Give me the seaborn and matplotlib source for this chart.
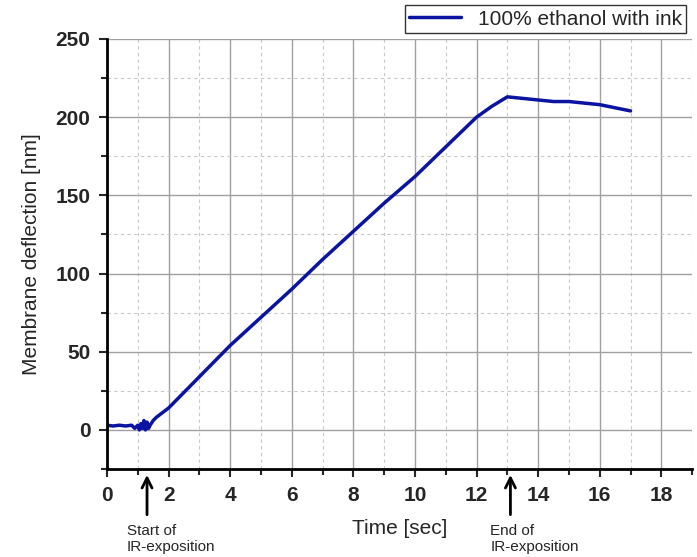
import numpy as np
import pandas as pd
import matplotlib
matplotlib.use("Agg")
import matplotlib.pyplot as plt
import seaborn as sns
from matplotlib.ticker import MultipleLocator

# Data
time_s = [0.0, 0.2, 0.4, 0.6, 0.8, 0.9, 1.0, 1.05, 1.1, 1.15, 1.2, 1.25, 1.3, 1.35, 1.4,
          1.5, 1.6, 1.8, 2.0, 3.0, 4.0, 5.0, 6.0, 7.0, 8.0, 9.0, 10.0, 11.0, 12.0,
          12.5, 13.0, 13.5, 14.0, 14.5, 15.0, 15.5, 16.0, 16.5, 17.0]
deflection_nm = [3, 2.5, 3, 2.5, 3, 1, 3, 0, 4, 1, 6, 0, 5, 1, 3,
                 6, 8, 11, 14, 34, 54, 72, 90, 109, 127, 145, 162, 181, 200,
                 207, 213, 212, 211, 210, 210, 209, 208, 206, 204]
series_label = "100% ethanol with ink"

df = pd.DataFrame({"Time": time_s, "Deflection": deflection_nm})

sns.set_style("white")
plt.rcParams["font.family"] = ["Liberation Sans", "DejaVu Sans"]

fig = plt.figure(figsize=(6.97, 5.57), dpi=100)
ax = fig.add_axes([0.1535, 0.158, 0.8395, 0.772])

sns.lineplot(data=df, x="Time", y="Deflection", ax=ax, color="#0a14a0",
             linewidth=2.5, label=series_label)

ax.set_xlim(0, 19)
ax.set_ylim(-25, 250)
ax.xaxis.set_major_locator(MultipleLocator(2))
ax.xaxis.set_minor_locator(MultipleLocator(1))
ax.yaxis.set_major_locator(MultipleLocator(50))
ax.yaxis.set_minor_locator(MultipleLocator(25))

ax.grid(which="major", color="#a0a0a0", linewidth=1, linestyle="-")
ax.grid(which="minor", color="#c8c8c8", linewidth=0.8, linestyle=(0, (3, 3)))
ax.set_axisbelow(True)

for s in ["top", "right"]:
    ax.spines[s].set_visible(False)
for s in ["left", "bottom"]:
    ax.spines[s].set_linewidth(2)
    ax.spines[s].set_color("black")

ax.tick_params(which="major", direction="out", length=6, width=1.5,
               labelsize=15, pad=6, left=True, bottom=True)
ax.tick_params(which="minor", direction="out", length=4, width=1.5,
               left=True, bottom=True)
for lbl in ax.get_xticklabels() + ax.get_yticklabels():
    lbl.set_fontweight("bold")

ax.set_xlabel("Time [sec]", fontsize=15, labelpad=10)
ax.set_ylabel("Membrane deflection [nm]", fontsize=15, labelpad=10)

leg = ax.legend(loc="lower right", bbox_to_anchor=(1.0, 1.0), fontsize=15,
                frameon=True, fancybox=False, edgecolor="black",
                borderpad=0.2, handlelength=2.5, borderaxespad=0.3)
leg.get_frame().set_linewidth(1)

# IR-exposition markers
for x, txt in [(1.3, "Start of\nIR-exposition"), (13.1, "End of\nIR-exposition")]:
    ax.annotate("", xy=(x, -27), xytext=(x, -56), xycoords="data",
                arrowprops=dict(arrowstyle="->", lw=2, color="black",
                                mutation_scale=18),
                annotation_clip=False)
    ax.text(x - 0.65, -60, txt, fontsize=11, ha="left", va="top",
            linespacing=1.2, clip_on=False)

fig.savefig("out.png", dpi=100)
